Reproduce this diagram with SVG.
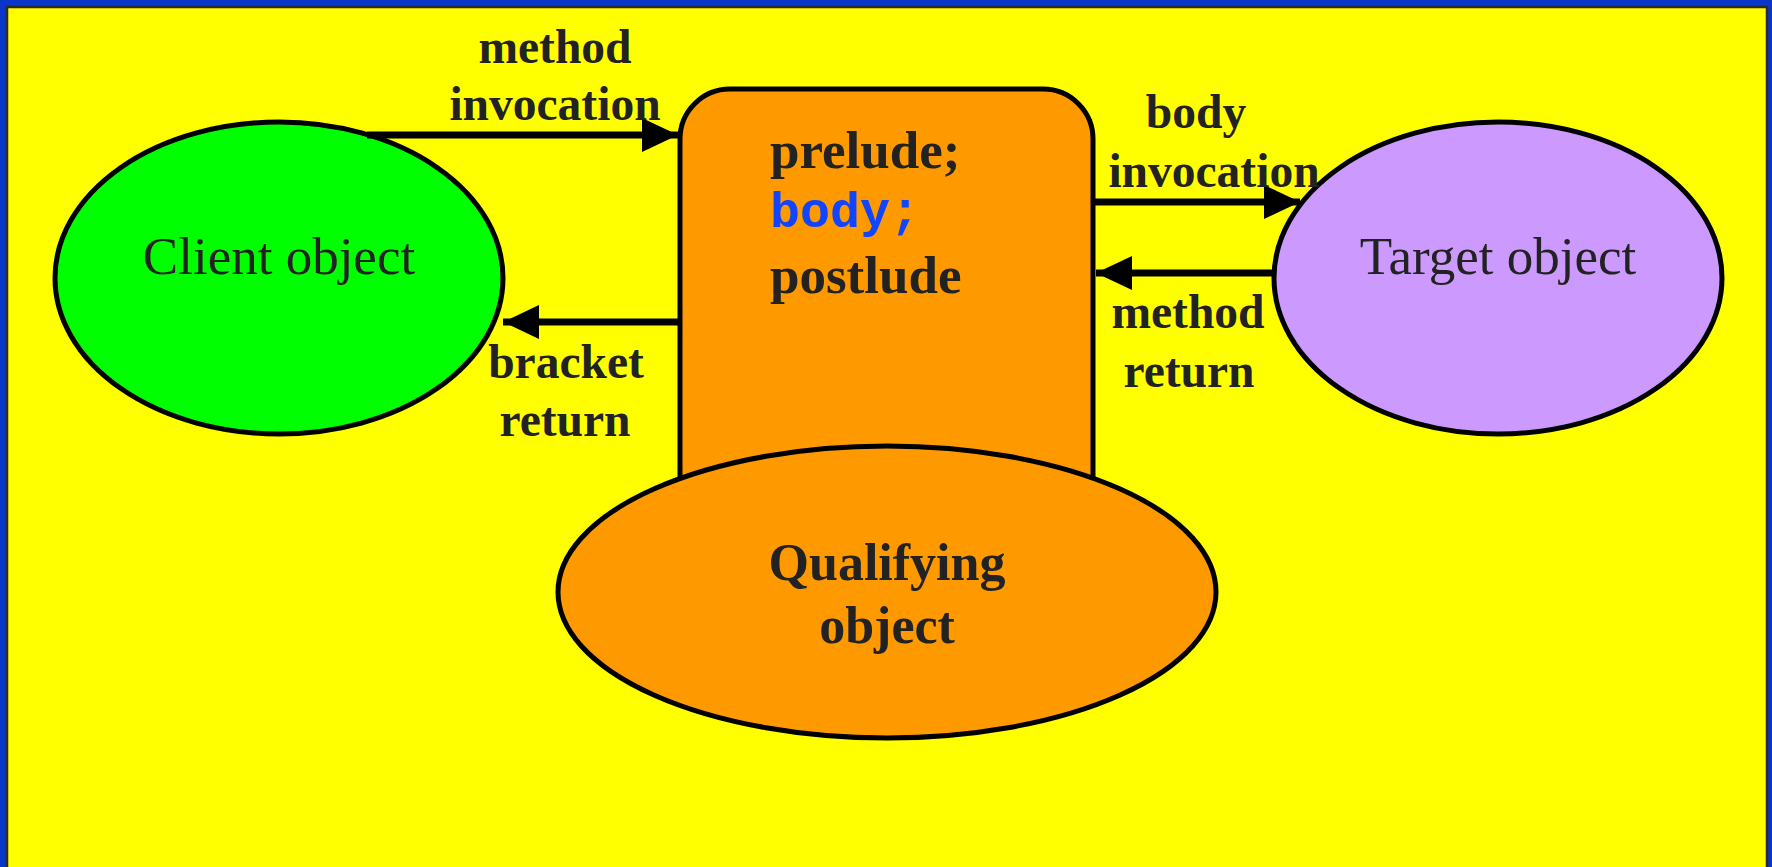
<svg xmlns="http://www.w3.org/2000/svg" width="1772" height="867" viewBox="0 0 1772 867">
<style>
.shape{stroke:#000;stroke-width:5}
.lbl{font-family:"Liberation Serif","Times New Roman",serif;font-weight:bold;font-size:47.5px;fill:#222;text-anchor:middle}
.code{font-family:"Liberation Serif","Times New Roman",serif;font-weight:bold;font-size:53px;fill:#222}
.mono{font-family:"Liberation Mono","Courier New",monospace;font-weight:bold;font-size:50px;fill:#1144ff}
.obj{font-family:"Liberation Serif","Times New Roman",serif;font-size:53px;fill:#222;text-anchor:middle}
.conn{stroke:#000;stroke-width:7;fill:none}
</style>
<defs>
<marker id="ah" markerUnits="userSpaceOnUse" markerWidth="38" markerHeight="36" refX="36" refY="17" orient="auto">
<path d="M0,0 L36,17 L0,34 Z" fill="#000"/>
</marker>
</defs>
<rect x="0" y="0" width="1772" height="867" fill="#0b35c9"/>
<rect x="7" y="7" width="1760" height="870" fill="#ffff00" stroke="#2a2a2a" stroke-width="2.5"/>
<g id="prelude-box">
<rect class="shape" x="680" y="89" width="413" height="560" rx="50" fill="#ff9900"/>
<text class="code" x="770" y="168">prelude;</text>
<text class="mono" x="770" y="227">body;</text>
<text class="code" x="770" y="293">postlude</text>
</g>
<g id="client">
<ellipse class="shape" cx="279" cy="278" rx="224" ry="156" fill="#00ff00"/>
<text class="obj" x="279" y="274">Client object</text>
</g>
<g id="target">
<ellipse class="shape" cx="1498" cy="278" rx="224" ry="156" fill="#cc99ff"/>
<text class="obj" x="1498" y="274">Target object</text>
</g>
<g id="qualifying">
<ellipse class="shape" cx="887" cy="592" rx="329" ry="146" fill="#ff9900"/>
<text class="lbl" style="font-size:52px" x="887" y="580">Qualifying</text>
<text class="lbl" style="font-size:52px" x="887" y="643">object</text>
</g>
<g id="connectors">
<line class="conn" x1="367" y1="135" x2="678" y2="135" marker-end="url(#ah)"/>
<line class="conn" x1="1095" y1="202" x2="1300" y2="202" marker-end="url(#ah)"/>
<line class="conn" x1="1273" y1="273" x2="1096" y2="273" marker-end="url(#ah)"/>
<line class="conn" x1="679" y1="322" x2="503" y2="322" marker-end="url(#ah)"/>
</g>
<g id="labels">
<text class="lbl" x="555" y="63">method</text>
<text class="lbl" x="555" y="120">invocation</text>
<text class="lbl" x="1196" y="128">body</text>
<text class="lbl" x="1214" y="187">invocation</text>
<text class="lbl" x="1188" y="328">method</text>
<text class="lbl" x="1189" y="387">return</text>
<text class="lbl" x="566" y="378">bracket</text>
<text class="lbl" x="565" y="436">return</text>
</g>
</svg>
